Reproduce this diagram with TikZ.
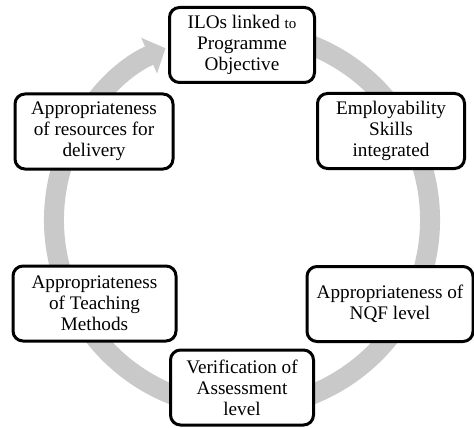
\documentclass[tikz,border=0pt]{standalone}
\usepackage{fontspec}
\setmainfont{Liberation Serif}
\usetikzlibrary{arrows.meta}

\tikzset{
	stage/.style={draw, line width=1.5pt, rounded corners=5pt, fill=white, align=center,
		font=\fontsize{9.6}{10.5}\selectfont, minimum height=37.5pt, inner sep=1pt},
	ring/.style={draw=black!21, line width=10pt, -{Triangle[length=9pt,width=19pt]}}
}

\begin{document}
\begin{tikzpicture}[x=0.5pt, y=-0.5pt]
	\useasboundingbox (0,0) rectangle (474,427);
	\coordinate (M) at (242,220);
	% the cycle behind the boxes (y axis points down)
	\draw[ring] (M) ++(-75:188) arc[start angle=-75, end angle=246, radius=188];
	\node[stage, minimum width=72.5pt] (ilo) at (242,45) {ILOs linked {\fontsize{7.5}{9}\selectfont to}\\Programme\\Objective};
	\node[stage, minimum width=73.5pt] (skills) at (391,131) {Employability\\Skills\\integrated};
	\node[stage, minimum width=83pt] (nqf) at (390,304) {Appropriateness of\\NQF level};
	\node[stage, minimum width=71.5pt] (assess) at (242,387.5) {Verification of\\Assessment\\level};
	\node[stage, minimum width=81.5pt] (teach) at (94.5,303.5) {Appropriateness\\of Teaching\\Methods};
	\node[stage, minimum width=79pt] (resource) at (94,131.5) {Appropriateness\\of resources for\\delivery};
\end{tikzpicture}
\end{document}
